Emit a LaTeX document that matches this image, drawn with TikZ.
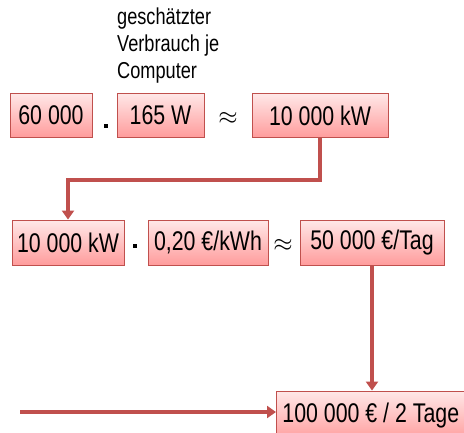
\documentclass[tikz,border=0pt]{standalone}
\usepackage{fontspec}
\setmainfont[FakeStretch=0.79]{Liberation Sans}
\usetikzlibrary{arrows.meta}
\definecolor{boxline}{HTML}{C0504D}
\definecolor{boxtop}{HTML}{FFE8E8}
\definecolor{boxbot}{HTML}{FF9C9C}
\definecolor{arrowred}{HTML}{C0504D}
\tikzset{
  valbox/.style={draw=boxline, line width=0.9pt, top color=boxtop, bottom color=boxbot,
    minimum height=44pt, inner sep=0pt, font=\fontsize{27}{31}\selectfont, anchor=center},
  flow/.style={draw=arrowred, line width=3.5pt, -{Triangle[length=9pt,width=12pt]}},
  op/.style={inner sep=0pt, font=\fontsize{30}{34}\selectfont},
  dotop/.style={fill=black, inner sep=0pt, minimum width=3.2pt, minimum height=3.8pt},
}
\begin{document}
\begin{tikzpicture}[x=1pt,y=-1pt]
\useasboundingbox (0,0) rectangle (464,432);
\begin{scope}
\clip (0,0) rectangle (464,432);
% first row: computers times consumption
\node[align=left, anchor=north west, inner sep=0pt, font=\fontsize{23}{27}\selectfont] (note) at (117,8)
  {geschätzter\\Verbrauch je\\Computer};
\node[valbox, minimum width=82pt] (n1) at (51,115) {60 000};
\node[dotop] (m1) at (106,126) {};
\node[valbox, minimum width=87pt] (n2) at (160.5,115) {165 W};
\node[op] (ap1) at (228,118) {$\approx$};
\node[valbox, minimum width=136pt] (n3) at (320,115.5) {10 000 kW};
% second row: power times price
\node[valbox, minimum width=112pt, minimum height=45pt] (p1) at (68,242.5) {10 000 kW};
\node[dotop] (m2) at (135,246) {};
\node[valbox, minimum width=120pt, minimum height=45pt] (p2) at (208,242.5) {0,20 €/kWh};
\node[op] (ap2) at (283,245) {$\approx$};
\node[valbox, minimum width=144pt, minimum height=45pt] (p3) at (372,242.5) {50 000 €/Tag};
% result, running past the right edge
\node[valbox, anchor=west, minimum height=50pt] (r) at (276,416)
  {\hspace*{6pt}100 000 € / 2 Tage\hspace*{16pt}};
\coordinate (src) at (20,412);
% connectors
\draw[flow] (n3.south) -- (n3.south |- 0,180) -| (p1.north);
\draw[flow] (p3.south) -- (p3.south |- r.north);
\draw[flow] (src) -- (src -| r.west);
\end{scope}
\end{tikzpicture}
\end{document}
